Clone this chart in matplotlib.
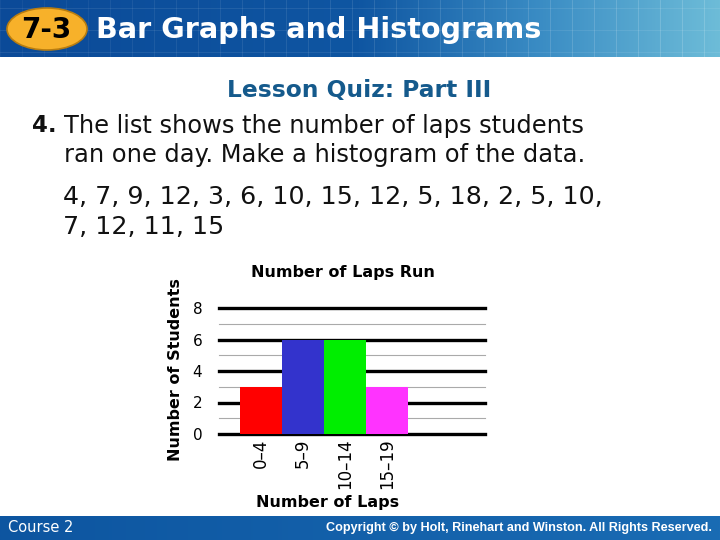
import numpy as np
import matplotlib
matplotlib.use("Agg")
import matplotlib.pyplot as plt
from matplotlib.patches import Ellipse
from matplotlib.colors import LinearSegmentedColormap

# data
laps_list = "4, 7, 9, 12, 3, 6, 10, 15, 12, 5, 18, 2, 5, 10,"
laps_list2 = "7, 12, 11, 15"
bins = ["0\u20134", "5\u20139", "10\u201314", "15\u201319"]
counts = [3, 6, 6, 3]
bar_colors = ["#ff0000", "#3333cc", "#00ee00", "#ff33ff"]
major_y = [0, 2, 4, 6, 8]
minor_y = [1, 3, 5, 7]

W, H = 720, 540
fig = plt.figure(figsize=(7.2, 5.4), dpi=100)

# slide background in pixel coords
bg = fig.add_axes([0, 0, 1, 1])
bg.set_xlim(0, W)
bg.set_ylim(H, 0)
bg.axis("off")

band = LinearSegmentedColormap.from_list(
    "band", [(0, "#0b4a98"), (0.5, "#0f56a2"), (0.75, "#3a8cc4"), (1, "#6dbcd8")])
grad = np.linspace(0, 1, 256).reshape(1, -1)
bg.imshow(grad, cmap=band, extent=(0, W, 57, 0), aspect="auto", zorder=1)
foot = LinearSegmentedColormap.from_list("foot", [(0, "#0d55a0"), (1, "#1a6cb4")])
bg.imshow(grad, cmap=foot, extent=(0, W, H, 516), aspect="auto", zorder=1)

# faint square pattern on header
for gx in range(0, W, 22):
    a = 0.05 + 0.15 * gx / W
    bg.plot([gx, gx], [0, 57], color="white", lw=0.6, alpha=a, zorder=2)
for gy in (8, 30, 52):
    bg.plot([0, W], [gy, gy], color="white", lw=0.6, alpha=0.1, zorder=2)

bg.add_patch(Ellipse((47, 29), 80, 42, facecolor="#f7b12a", edgecolor="#b87d10", lw=1.2, zorder=3))
bg.text(46, 30, "7-3", fontsize=20, fontweight="bold", color="black",
        ha="center", va="center", zorder=4)
bg.text(96, 30, "Bar Graphs and Histograms", fontsize=20.6, fontweight="bold", color="white",
        ha="left", va="center", zorder=4)

bg.text(359, 90, "Lesson Quiz: Part III", fontsize=16.8, fontweight="bold", color="#155a8c",
        ha="center", va="center")
bg.text(32, 126, "4.", fontsize=16.5, fontweight="bold", color="#111111", ha="left", va="center")
bg.text(64, 126, "The list shows the number of laps students", fontsize=17.4, color="#111111",
        ha="left", va="center")
bg.text(64, 155, "ran one day. Make a histogram of the data.", fontsize=17.4, color="#111111",
        ha="left", va="center")
bg.text(63, 197, laps_list, fontsize=18.2, color="#111111", ha="left", va="center")
bg.text(63, 227, laps_list2, fontsize=18.2, color="#111111", ha="left", va="center")

bg.text(343, 272, "Number of Laps Run", fontsize=11.5, fontweight="bold", ha="center", va="center")
bg.text(175, 370, "Number of Students", fontsize=11.5, fontweight="bold", rotation=90,
        ha="center", va="center")
bg.text(328, 503, "Number of Laps", fontsize=11.5, fontweight="bold", ha="center", va="center")

bg.text(8, 528, "Course 2", fontsize=10.5, color="white", ha="left", va="center")
bg.text(712, 528, "Copyright \u00a9 by Holt, Rinehart and Winston. All Rights Reserved.",
        fontsize=9.1, fontweight="bold", color="white", family="Liberation Sans",
        ha="right", va="center")

# histogram
ax = fig.add_axes([219 / W, (H - 434) / H, 266 / W, 126 / H])
ax.patch.set_alpha(0)
for s in ax.spines.values():
    s.set_visible(False)
x = np.arange(len(bins))
for v in minor_y:
    ax.axhline(v, color="#aaaaaa", lw=0.8, zorder=1, clip_on=False)
for v in major_y:
    ax.axhline(v, color="black", lw=2.4, zorder=1, clip_on=False)
ax.bar(x, counts, width=1.0, color=bar_colors, zorder=2)
ax.set_xlim(-1.0, 5.33)
ax.set_ylim(0, 8)
ax.set_yticks(major_y)
ax.set_yticklabels([str(v) for v in major_y], fontsize=11)
ax.set_xticks(x)
ax.set_xticklabels(bins, rotation=90, fontsize=12)
ax.tick_params(axis="both", length=0)
ax.tick_params(axis="y", pad=12)
ax.tick_params(axis="x", pad=3)

fig.savefig("out.png", dpi=100)
